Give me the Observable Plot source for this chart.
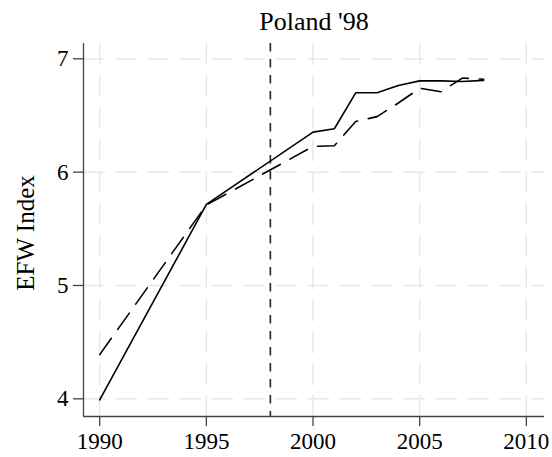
<!DOCTYPE html>
<html>
<head>
<meta charset="utf-8">
<script src="https://cdn.jsdelivr.net/npm/d3@7"></script>
<script src="https://cdn.jsdelivr.net/npm/@observablehq/plot@0.6"></script>
<style>
  html, body { margin: 0; padding: 0; background: #fff; }
</style>
</head>
<body>
<div id="chart"></div>
<script>
// Data
const years = [1990, 1995, 2000, 2001, 2002, 2003, 2004, 2005, 2006, 2007, 2008];
const poland = [3.99, 5.715, 6.353, 6.383, 6.70, 6.70, 6.765, 6.805, 6.805, 6.80, 6.81];
const synthetic = [4.39, 5.71, 6.227, 6.233, 6.447, 6.49, 6.61, 6.74, 6.71, 6.83, 6.82];
const treatYear = 1998;
const xTicks = [1990, 1995, 2000, 2005, 2010];
const yTicks = [4, 5, 6, 7];
const xDomain = [1989.24, 2010.85];
const yDomain = [3.844, 7.135];
const titleText = "Poland '98";
const yLabel = "EFW Index";

const solidRows = years.map((y, i) => ({year: y, value: poland[i]}));
const dashRows = years.map((y, i) => ({year: y, value: synthetic[i]}));

const axisColor = "#444";
const gridStyle = {stroke: "#e8e8e8", strokeOpacity: 1, strokeWidth: 1.5, strokeDasharray: "22,10"};

const chart = Plot.plot({
  width: 552,
  height: 457,
  marginLeft: 83,
  marginRight: 8,
  marginTop: 43,
  marginBottom: 41,
  x: {domain: xDomain},
  y: {domain: yDomain},
  style: {
    fontFamily: "'Liberation Serif', 'Times New Roman', serif",
    fontSize: "23px",
    color: "black",
    background: "white"
  },
  marks: [
    Plot.gridX(xTicks, gridStyle),
    Plot.gridY(yTicks, gridStyle),
    Plot.ruleX([treatYear], {stroke: "#222", strokeWidth: 1.6, strokeDasharray: "8.5,7.5"}),
    Plot.line(dashRows, {x: "year", y: "value", stroke: "black", strokeWidth: 1.6, strokeDasharray: "20,11"}),
    Plot.line(solidRows, {x: "year", y: "value", stroke: "black", strokeWidth: 1.6}),
    Plot.ruleX([xDomain[0]], {stroke: axisColor, strokeWidth: 1.3}),
    Plot.ruleY([yDomain[0]], {stroke: axisColor, strokeWidth: 1.3}),
    Plot.axisX(xTicks, {tickSize: 10, tickPadding: 6, tickFormat: "d", label: null, stroke: axisColor, strokeWidth: 1.3, fontSize: 23}),
    Plot.axisY(yTicks, {tickSize: 10, tickPadding: 5, tickFormat: "d", label: null, stroke: axisColor, strokeWidth: 1.3, fontSize: 23}),
    Plot.text([titleText], {frameAnchor: "top", lineAnchor: "middle", textAnchor: "middle", dy: -22, fontSize: 26, fill: "black"}),
    Plot.text([yLabel], {frameAnchor: "left", lineAnchor: "middle", textAnchor: "middle", rotate: -90, dx: -58, dy: 3, fontSize: 25, fill: "black"})
  ]
});

document.getElementById("chart").appendChild(chart);
</script>
</body>
</html>
